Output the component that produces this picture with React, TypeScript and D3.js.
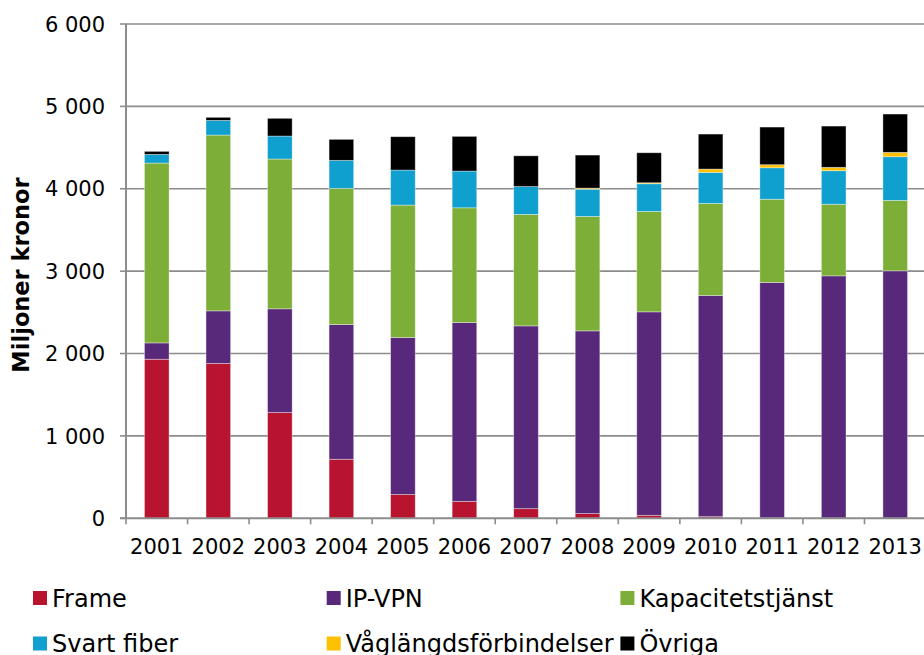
import React from "react";
import * as d3 from "d3";

const years = ["2001","2002","2003","2004","2005","2006","2007","2008","2009","2010","2011","2012","2013"];
const frame = [1931, 1879, 1284, 717, 288, 206, 117, 57, 36, 20, 5, 3, 2];
const ipvpn = [198, 639, 1259, 1635, 1907, 2171, 2219, 2218, 2470, 2685, 2858, 2940, 3002];
const kapacitet = [2183, 2134, 1818, 1653, 1607, 1392, 1353, 1389, 1219, 1117, 1010, 869, 855];
const svartFiber = [105, 178, 279, 340, 425, 446, 338, 331, 336, 377, 382, 407, 530];
const vaglangd = [0, 0, 0, 0, 0, 0, 0, 13, 12, 40, 37, 41, 53];
const ovriga = [37, 37, 215, 255, 405, 421, 373, 401, 364, 425, 457, 501, 465];

const seriesNames = ["Frame", "IP-VPN", "Kapacitetstjänst", "Svart fiber", "Våglängdsförbindelser", "Övriga"];
const seriesValues = [frame, ipvpn, kapacitet, svartFiber, vaglangd, ovriga];
const seriesColors = ["#B8142F", "#58287A", "#7DAE38", "#10A0D0", "#FFC000", "#000000"];
const yTicks = [0, 1000, 2000, 3000, 4000, 5000, 6000];
const yTitle = "Miljoner kronor";

const W = 924, H = 655;
const left = 126, right = 926, top = 24, bottom = 518.3;
const font = "'DejaVu Sans', Verdana, sans-serif";

export default function App() {
  const rows = years.map((y, i) => {
    const r: any = { year: y };
    seriesNames.forEach((s, k) => (r[s] = seriesValues[k][i]));
    return r;
  });
  const stacked = d3.stack().keys(seriesNames)(rows);
  const x = d3.scaleBand().domain(years).range([left, right]).paddingInner(0.6).paddingOuter(0.3);
  const y = d3.scaleLinear().domain([0, 6000]).range([bottom, top]);
  const step = x.step();
  const fmt = d3.formatLocale({ decimal: ",", thousands: " ", grouping: [3], currency: ["", ""] }).format(",d");
  const grid = "#8C8C8C";

  return (
    <div style={{ position: "absolute", left: 0, top: 0 }}>
      <svg width={W} height={H} style={{ display: "block", background: "#fff" }}>
        {yTicks.filter(t => t > 0).map(t => (
          <line key={"g" + t} x1={left} x2={W} y1={y(t)} y2={y(t)} stroke={grid} strokeWidth={1.6} />
        ))}
        {stacked.map((layer, k) => (
          <g key={seriesNames[k]} fill={seriesColors[k]}>
            {layer.map((d, i) => {
              const h = y(d[0]) - y(d[1]);
              if (h <= 0) return null;
              return (
                <rect key={i} x={x(years[i])} y={y(d[1])} width={x.bandwidth()} height={h}
                  stroke="rgba(255,255,255,0.45)" strokeWidth={0.8} />
              );
            })}
          </g>
        ))}
        <line x1={left} x2={left} y1={top} y2={bottom} stroke={grid} strokeWidth={2} />
        <line x1={left - 6} x2={W} y1={bottom} y2={bottom} stroke={grid} strokeWidth={2} />
        {yTicks.map(t => (
          <g key={"t" + t}>
            <line x1={left - 6} x2={left} y1={y(t)} y2={y(t)} stroke={grid} strokeWidth={1.6} />
            <text x={105} y={y(t) + 7.7} textAnchor="end" fontFamily={font} fontSize={21} fill="#000">{fmt(t)}</text>
          </g>
        ))}
        {d3.range(years.length + 1).map(i => (
          <line key={"xt" + i} x1={left + i * step} x2={left + i * step} y1={bottom} y2={bottom + 6} stroke={grid} strokeWidth={1.6} />
        ))}
        {years.map(yr => (
          <text key={"xl" + yr} x={(x(yr) as number) + x.bandwidth() / 2} y={bottom + 36} textAnchor="middle"
            fontFamily={font} fontSize={21} fill="#000">{yr}</text>
        ))}
        <text transform={`translate(29,275) rotate(-90)`} textAnchor="middle" fontFamily={font} fontSize={22.5}
          fontWeight="bold" fill="#000">{yTitle}</text>
        {seriesNames.map((s, k) => {
          const col = k % 3, row = Math.floor(k / 3);
          const lx = 33 + col * 293.7;
          const ly = 591 + row * 45.5;
          return (
            <g key={"lg" + s}>
              <rect x={lx} y={ly} width={14} height={14} fill={seriesColors[k]} />
              <text x={lx + 19} y={ly + 15.7} fontFamily={font} fontSize={24} fill="#000">{s}</text>
            </g>
          );
        })}
      </svg>
    </div>
  );
}
